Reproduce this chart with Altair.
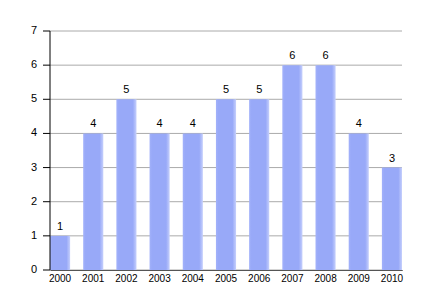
import altair as alt
import pandas as pd

years = ["2000", "2001", "2002", "2003", "2004", "2005", "2006", "2007", "2008", "2009", "2010"]
values = [1, 4, 5, 4, 4, 5, 5, 6, 6, 4, 3]
y_ticks = [0, 1, 2, 3, 4, 5, 6, 7]

W, H = 352, 239

df = pd.DataFrame({"year": years, "value": values})
tdf = pd.DataFrame({"tick": y_ticks})
one = pd.DataFrame({"v": [0]})

grad = alt.Gradient(
    gradient="linear",
    stops=[
        alt.GradientStop(color="#a3b2fa", offset=0),
        alt.GradientStop(color="#98a9f8", offset=0.12),
        alt.GradientStop(color="#98a9f8", offset=0.82),
        alt.GradientStop(color="#c6d0fc", offset=1),
    ],
    x1=0, x2=1, y1=0, y2=0,
)

y_scale = alt.Scale(domain=[0, 7], nice=False)

x = alt.X(
    "year:N",
    sort=years,
    scale=alt.Scale(paddingInner=0.394, paddingOuter=0),
    axis=alt.Axis(
        title=None, labelAngle=0, ticks=False, domain=True, domainColor="#000",
        labelColor="#000", labelFontSize=10, labelFont="Liberation Sans",
        labelPadding=3, grid=False,
    ),
)

grid = alt.Chart(tdf).mark_rule(color="#aaaaaa", strokeWidth=1).encode(
    y=alt.Y("tick:Q", scale=y_scale, axis=None),
    x=alt.value(0), x2=alt.value(W),
)
ticks = alt.Chart(tdf).mark_rule(color="#000", strokeWidth=1).encode(
    y=alt.Y("tick:Q", scale=y_scale, axis=None),
    x=alt.value(-7), x2=alt.value(0),
)
tick_labels = alt.Chart(tdf).mark_text(
    align="right", baseline="middle", fontSize=11, font="Liberation Sans", color="#000"
).encode(
    y=alt.Y("tick:Q", scale=y_scale, axis=None),
    x=alt.value(-13), text="tick:Q",
)
y_domain = alt.Chart(one).mark_rule(color="#000", strokeWidth=1).encode(
    x=alt.value(0), y=alt.value(0), y2=alt.value(H),
)

bars = alt.Chart(df).mark_bar(fill=grad).encode(
    x=x, y=alt.Y("value:Q", scale=y_scale, axis=None)
)
text = alt.Chart(df).mark_text(dy=-9, fontSize=11, font="Liberation Sans", color="#000").encode(
    x=alt.X("year:N", sort=years), y=alt.Y("value:Q", scale=y_scale, axis=None), text="value:Q"
)

chart = alt.layer(grid, bars, text, y_domain, ticks, tick_labels).properties(
    width=W, height=H,
    autosize=alt.AutoSizeParams(type="none"),
    padding={"left": 50, "top": 31, "right": 28, "bottom": 30},
).configure_view(stroke=None)

chart.save("out.html", embed_options={"renderer": "svg", "actions": False})
